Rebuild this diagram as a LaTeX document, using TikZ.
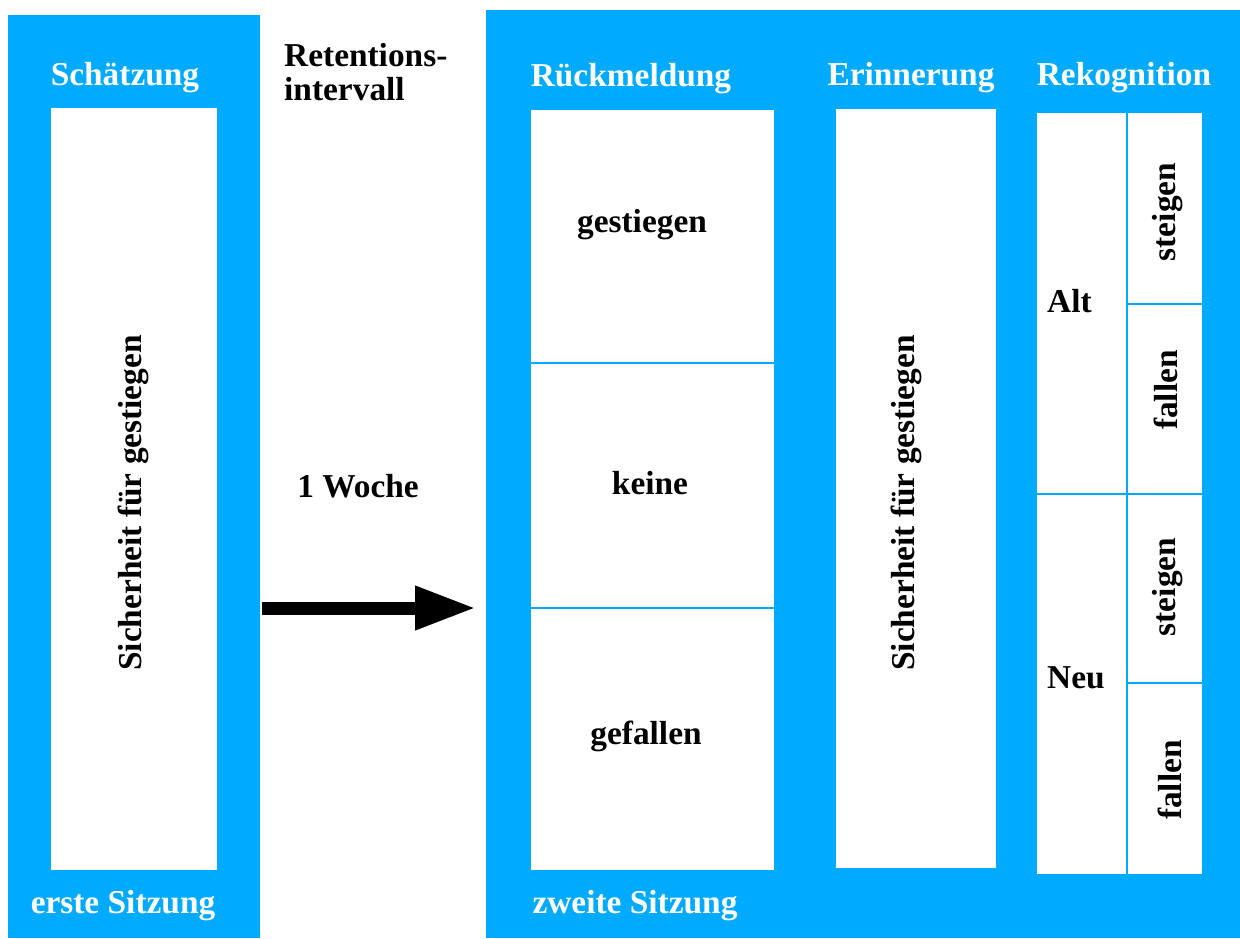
\documentclass[tikz,border=0pt]{standalone}
\usepackage{fontspec}
\setmainfont{Liberation Serif}
\usetikzlibrary{positioning}
\usetikzlibrary{arrows.meta}

\definecolor{blau}{RGB}{0,170,255}
\tikzset{
  panel/.style = {fill=blau, draw=none, inner sep=0pt, anchor=north west},
  feld/.style = {fill=white, draw=blau, line width=1pt, inner sep=0pt, outer sep=0pt},
  titel/.style = {text=white, font=\fontsize{19}{21}\selectfont\bfseries},
  beschr/.style = {font=\fontsize{19}{21}\selectfont\bfseries},
  pfeil/.style = {line width=0.26cm, -{Triangle[length=1.22cm, width=0.82cm]}}
}

\begin{document}
\begin{tikzpicture}[x=0.02cm, y=-0.02cm]
\useasboundingbox (0,0) rectangle (1240,938);

% erste Sitzung
\node[panel, minimum width=5.04cm, minimum height=18.46cm] (erste) at (8,15) {};
\node[feld, draw=none, anchor=north west, minimum width=3.32cm, minimum height=15.24cm] (schaetzbox) at (51,108) {};
\node[titel] (schaetzung) at (125,78) {Schätzung};
\node[titel] (ersteS) at (123,906) {erste Sitzung};
\node[beschr, rotate=90] (sicher1) at (133,503) {Sicherheit für gestiegen};

% Retentionsintervall
\node[beschr, anchor=west, align=left, font=\fontsize{19}{19.3}\selectfont\bfseries] (retention) at (278,72) {Retentions-\\intervall};
\node[beschr] (woche) at (358,486) {1 Woche};
\coordinate (pfeilA) at (262,608);
\coordinate (pfeilB) at (476,608);
\draw[pfeil] (pfeilA) -- (pfeilB);

% zweite Sitzung
\node[panel, minimum width=15.08cm, minimum height=18.56cm] (zweite) at (486,10) {};
\node[titel] (rueck) at (631,79) {Rückmeldung};
\node[titel] (erinn) at (911,78) {Erinnerung};
\node[titel] (rekog) at (1124,78) {Rekognition};
\node[titel] (zweiteS) at (635,906) {zweite Sitzung};

\node[feld, anchor=north west, minimum width=4.9cm, minimum height=5.08cm] (rueck1) at (530,109) {};
\node[feld, below=0pt of rueck1, minimum width=4.9cm, minimum height=4.9cm] (rueck2) {};
\node[feld, below=0pt of rueck2, minimum width=4.9cm, minimum height=5.26cm] (rueck3) {};
\node[beschr] (gestiegen) at (642,225) {gestiegen};
\node[beschr] (keine) at (650,483) {keine};
\node[beschr] (gefallen) at (646,736) {gefallen};

\node[feld, anchor=north west, minimum width=3.24cm, minimum height=15.22cm] (erinnbox) at (835,108) {};
\node[beschr, rotate=90] (sicher2) at (906,503) {Sicherheit für gestiegen};

\node[feld, anchor=north west, minimum width=1.82cm, minimum height=7.64cm] (alt) at (1036,112) {};
\node[feld, below=0pt of alt, minimum width=1.82cm, minimum height=7.62cm] (neu) {};
\node[feld, anchor=north west, minimum width=1.52cm, minimum height=3.84cm] (altS) at (1127,112) {};
\node[feld, below=0pt of altS, minimum width=1.52cm, minimum height=3.8cm] (altF) {};
\node[feld, below=0pt of altF, minimum width=1.52cm, minimum height=3.78cm] (neuS) {};
\node[feld, below=0pt of neuS, minimum width=1.52cm, minimum height=3.84cm] (neuF) {};
\node[beschr, anchor=west] (altT) at (1041,301) {Alt};
\node[beschr, anchor=west] (neuT) at (1041,678) {Neu};
\node[beschr, rotate=90] (altST) at (1168,212) {steigen};
\node[beschr, rotate=90] (altFT) at (1166,390) {fallen};
\node[beschr, rotate=90] (neuST) at (1168,587) {steigen};
\node[beschr, rotate=90] (neuFT) at (1170,780) {fallen};
\end{tikzpicture}
\end{document}
